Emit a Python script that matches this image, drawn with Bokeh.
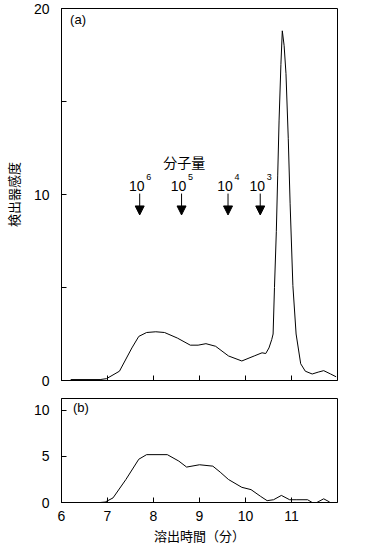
from bokeh.plotting import figure
from bokeh.layouts import column
from bokeh.models import FixedTicker, Arrow, NormalHead, ColumnDataSource
from bokeh.core.properties import value
from bokeh.embed import file_html
from bokeh.resources import INLINE

# ---- data (a) ----
time_a = [6.2, 6.84, 6.98, 7.26, 7.53, 7.68, 7.85, 8.05, 8.24, 8.52, 8.8, 8.97, 9.14,
          9.35, 9.63, 9.92, 10.19, 10.36, 10.44, 10.51, 10.57, 10.60, 10.63, 10.67,
          10.70, 10.73, 10.77, 10.80, 10.84, 10.88, 10.93, 10.97, 11.03, 11.1, 11.2,
          11.3, 11.45, 11.58, 11.7, 11.85, 11.97]
signal_a = [0.05, 0.05, 0.1, 0.5, 1.75, 2.37, 2.58, 2.62, 2.58, 2.28, 1.9, 1.9, 1.98,
            1.84, 1.32, 1.05, 1.32, 1.49, 1.45, 1.75, 2.2, 2.5, 5.0, 8.0,
            11.0, 14.0, 17.0, 18.8, 18.0, 16.5, 13.0, 9.5, 5.1, 2.5, 0.9,
            0.5, 0.35, 0.45, 0.53, 0.35, 0.2]

# ---- data (b) ----
time_b = [6.2, 6.84, 6.95, 7.12, 7.4, 7.68, 7.85, 8.3, 8.55, 8.72, 9.0, 9.29, 9.45,
          9.63, 9.92, 10.12, 10.33, 10.47, 10.61, 10.78, 10.96, 11.1, 11.35, 11.45,
          11.55, 11.7, 11.83]
signal_b = [0.0, 0.0, 0.05, 0.5, 2.5, 4.7, 5.2, 5.2, 4.5, 3.85, 4.1, 3.95, 3.3,
            2.5, 1.65, 1.4, 0.66, 0.2, 0.3, 0.77, 0.3, 0.3, 0.3, 0.0,
            0.0, 0.4, 0.05]

# ---- molecular weight markers ----
marker_time = [7.70, 8.61, 9.62, 10.32]
marker_exp = ["6", "5", "4", "3"]
arrow_top = 10.05
arrow_tip = 8.9
label_y = 10.48

a_yticks = [0, 5, 10, 15, 20]
b_yticks = [0, 5, 10]
x_ticks = [6, 7, 8, 9, 10, 11]

JP = "Noto Sans CJK JP"
NUM = "Liberation Sans"


def style(p):
    p.grid.visible = False
    p.outline_line_color = "black"
    p.outline_line_width = 1
    p.background_fill_color = "white"
    p.border_fill_color = "white"
    for ax in (p.xaxis[0], p.yaxis[0]):
        ax.major_tick_in = 5
        ax.major_tick_out = 0
        ax.minor_tick_line_color = None
        ax.axis_line_color = "black"
        ax.major_tick_line_color = "black"
        ax.major_label_text_font = NUM
        ax.major_label_text_font_size = "14px"
        ax.major_label_text_color = "black"
        ax.axis_label_text_font = JP
        ax.axis_label_text_font_style = "normal"
        ax.axis_label_text_font_size = "13px"
        ax.axis_label_text_color = "black"


p1 = figure(width=347, height=398, x_range=(6, 12), y_range=(0, 20),
            output_backend="svg", toolbar_location=None,
            min_border_left=52, min_border_right=10, min_border_top=8,
            min_border_bottom=18)
style(p1)
p1.line(time_a, signal_a, line_color="black", line_width=1)
p1.yaxis.ticker = FixedTicker(ticks=a_yticks)
p1.yaxis.major_label_overrides = {5: "", 15: ""}
p1.yaxis.major_label_standoff = 12
p1.yaxis.axis_label = "検出器感度"
p1.yaxis.axis_label_standoff = 8
p1.xaxis.ticker = FixedTicker(ticks=x_ticks[1:])
p1.xaxis.major_label_overrides = {t: "" for t in x_ticks}
p1.xaxis.major_label_standoff = 0

src = ColumnDataSource(dict(x=marker_time, ys=[arrow_top] * 4, ye=[arrow_tip] * 4))
p1.add_layout(Arrow(end=NormalHead(size=9, fill_color="black", line_color="black"),
                    x_start="x", y_start="ys", x_end="x", y_end="ye",
                    line_color="black", line_width=1, source=src))
p1.text(x=marker_time, y=[label_y] * 4, text=["10"] * 4, x_offset=-3,
        text_align="center", text_baseline="middle",
        text_font=value(NUM), text_font_size="14px", text_color="black")
p1.text(x=marker_time, y=[label_y] * 4, text=marker_exp, x_offset=9, y_offset=-9,
        text_align="center", text_baseline="middle",
        text_font=value(NUM), text_font_size="9px", text_color="black")
p1.text(x=[8.67], y=[11.75], text=["分子量"], text_align="center",
        text_baseline="middle", text_font=value(JP), text_font_size="14px",
        text_color="black")
p1.text(x=[6.36], y=[19.4], text=["(a)"], text_align="center",
        text_baseline="middle", text_font=value(NUM), text_font_size="13px",
        text_color="black")

p2 = figure(width=347, height=149, x_range=(6, 12), y_range=(0, 11.3),
            output_backend="svg", toolbar_location=None,
            min_border_left=52, min_border_right=10, min_border_top=0,
            min_border_bottom=45)
style(p2)
p2.line(time_b, signal_b, line_color="black", line_width=1)
p2.yaxis.ticker = FixedTicker(ticks=b_yticks)
p2.yaxis.major_label_standoff = 12
p2.xaxis.ticker = FixedTicker(ticks=x_ticks)
p2.xaxis.major_label_standoff = 8
p2.xaxis.axis_label = "溶出時間（分）"
p2.xaxis.axis_label_standoff = 2
p2.text(x=[6.42], y=[10.3], text=["(b)"], text_align="center",
        text_baseline="middle", text_font=value(NUM), text_font_size="13px",
        text_color="black")

layout = column(p1, p2, spacing=0)
open("out.html", "w").write(file_html(layout, INLINE))
